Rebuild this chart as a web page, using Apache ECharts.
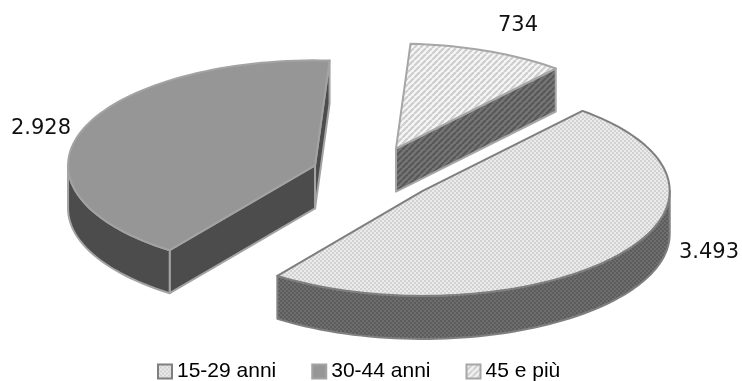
<!DOCTYPE html>
<html>
<head>
<meta charset="utf-8">
<style>html,body{margin:0;padding:0;background:#fff}#c{width:742px;height:381px}</style>
<script src="https://cdn.jsdelivr.net/npm/echarts@6/dist/echarts.min.js"></script>
</head>
<body>
<div id="c"></div>
<script>
const categories = ['15-29 anni', '30-44 anni', '45 e più'];
const values = [3493, 2928, 734];
const valueLabels = ['3.493', '2.928', '734'];

// layout of the tilted pie
const centre = [372, 174], rx = 247, tilt = 0.425, depth = 43, firstAngle = 40.3;
const explode = [64.5, 60.5, 64.5];
const labelAnchor = [[709, 252.5], [41, 128.5], [518, 26]];

function tile(size, paint) {
  const c = document.createElement('canvas');
  c.width = c.height = size;
  paint(c.getContext('2d'), size);
  return { image: c, repeat: 'repeat' };
}
function checker(a, b) {
  return tile(4, (g, s) => {
    g.fillStyle = a; g.fillRect(0, 0, s, s);
    g.fillStyle = b; g.fillRect(0, 0, 2, 2); g.fillRect(2, 2, 2, 2);
  });
}
function stripes(a, b) {
  return tile(6, (g, s) => {
    g.fillStyle = a; g.fillRect(0, 0, s, s);
    g.strokeStyle = b; g.lineWidth = 2.2;
    for (let i = -s; i <= 2 * s; i += s) {
      g.beginPath(); g.moveTo(i, s); g.lineTo(i + s, 0); g.stroke();
    }
  });
}
const topFill = [checker('#ebebeb', '#d2d2d2'), '#969696', stripes('#f6f6f6', '#cdcdcd')];
const sideFill = [checker('#6e6e6e', '#5c5c5c'), '#4c4c4c', stripes('#767676', '#585858')];
const edge = ['#7f7f7f', '#a3a3a3', '#a6a6a6'];

const total = values.reduce((a, b) => a + b, 0);
let run = firstAngle;
const slices = values.map((v, i) => {
  const start = run, end = run + v / total * 360;
  run = end;
  const mid = (start + end) / 2 * Math.PI / 180;
  return { start, end,
    ax: centre[0] + explode[i] * Math.sin(mid),
    ay: centre[1] - explode[i] * tilt * Math.cos(mid) };
});

function rim(s, deg, drop) {
  const t = deg * Math.PI / 180;
  return [s.ax + rx * Math.sin(t), s.ay - rx * tilt * Math.cos(t) + (drop || 0)];
}
function arc(s, from, to, drop) {
  const pts = [], n = Math.max(2, Math.ceil((to - from) / 2));
  for (let k = 0; k <= n; k++) pts.push(rim(s, from + (to - from) * k / n, drop));
  return pts;
}
function poly(points, fill, stroke, w) {
  return { type: 'polygon', shape: { points },
    style: { fill, stroke, lineWidth: w, lineJoin: 'round' } };
}

function renderSlice(i) {
  return function () {
    const s = slices[i], kids = [];
    const side = sideFill[i], line = edge[i];
    const apex = [s.ax, s.ay], apexLow = [s.ax, s.ay + depth];
    const sinDeg = d => Math.sin(d * Math.PI / 180);
    if (sinDeg(s.start) < 0) kids.push(poly([apex, rim(s, s.start), rim(s, s.start, depth), apexLow], side, line, 2));
    if (sinDeg(s.end) > 0) kids.push(poly([apex, rim(s, s.end), rim(s, s.end, depth), apexLow], side, line, 2));
    const lo = Math.max(s.start, 90), hi = Math.min(s.end, 270);
    if (hi > lo) kids.push(poly(arc(s, lo, hi, 0).concat(arc(s, lo, hi, depth).reverse()), side, line, 2));
    kids.push(poly([apex].concat(arc(s, s.start, s.end, 0)), topFill[i], line, 2));
    kids.push({ type: 'text', x: labelAnchor[i][0], y: labelAnchor[i][1],
      style: { text: valueLabels[i], fill: '#111', font: '21px "DejaVu Sans"', align: 'center', verticalAlign: 'middle' } });
    return { type: 'group', children: kids };
  };
}

const chart = echarts.init(document.getElementById('c'), null, { renderer: 'canvas' });
chart.setOption({
  animation: false,
  backgroundColor: '#fff',
  legend: {
    left: 157, top: 361, padding: 0, itemWidth: 14, itemHeight: 14, itemGap: 35,
    icon: 'rect', selectedMode: false,
    textStyle: { fontFamily: 'Liberation Sans', fontSize: 21, color: '#000' },
    data: categories
  },
  series: categories.map((name, i) => ({
    type: 'custom', name, coordinateSystem: 'none', silent: true,
    itemStyle: { color: topFill[i], borderColor: edge[i], borderWidth: 2 },
    data: [[values[i]]],
    renderItem: renderSlice(i)
  }))
});
</script>
</body>
</html>
